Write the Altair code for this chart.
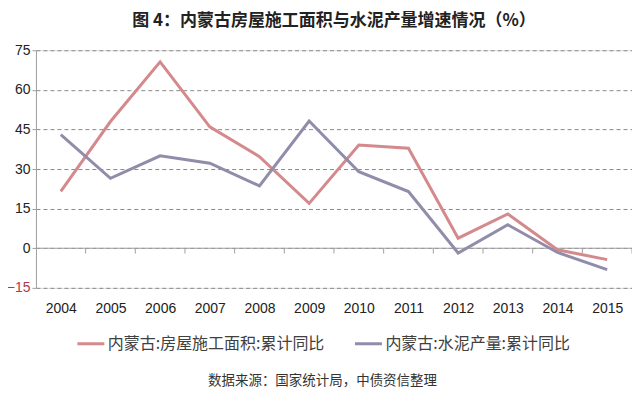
import altair as alt
import pandas as pd

years = [2004, 2005, 2006, 2007, 2008, 2009, 2010, 2011, 2012, 2013, 2014, 2015]
housing = [21.5, 48.0, 70.6, 46.0, 34.7, 17.0, 39.1, 37.9, 3.8, 13.0, -0.6, -4.3]
cement = [43.0, 26.5, 35.0, 32.2, 23.6, 48.2, 29.0, 21.5, -1.8, 8.9, -1.6, -8.1]
series_names = ["内蒙古:房屋施工面积:累计同比", "内蒙古:水泥产量:累计同比"]
series_colors = ["#d48a8c", "#908ca9"]
y_ticks = [-15, 0, 15, 30, 45, 60, 75]
title_text = "图 4：内蒙古房屋施工面积与水泥产量增速情况（%）"
source_text = "数据来源：国家统计局，中债资信整理"

W, H = 597, 238
x_domain = [years[0] - 0.5, years[-1] + 0.5]
y_domain = [y_ticks[0], y_ticks[-1]]

rows = []
for name, vals in zip(series_names, [housing, cement]):
    for yr, v in zip(years, vals):
        rows.append({"year": yr, "value": v, "series": name})
df = pd.DataFrame(rows)

xscale = alt.Scale(domain=x_domain, nice=False, zero=False)
yscale = alt.Scale(domain=y_domain, nice=False, zero=False)

x_axis = alt.Axis(values=years, format="d", ticks=False, domain=False, grid=False,
                  labelFontSize=14, labelColor="#222", labelPadding=14,
                  labelFont="Liberation Sans", labelOverlap=False)
y_axis = alt.Axis(values=y_ticks, grid=True, gridDash=[4, 3], gridColor="#8a8a8a",
                  domainColor="#a0a0a0", tickColor="#a0a0a0", tickSize=4,
                  labelFontSize=14, labelPadding=2, labelFont="Liberation Sans",
                  labelOverlap=False,
                  labelColor={"condition": {"test": "datum.value < 0", "value": "#b03a48"},
                              "value": "#222"})

lines = alt.Chart(df).mark_line(strokeWidth=3).encode(
    x=alt.X("year:Q", scale=xscale, title=None, axis=x_axis),
    y=alt.Y("value:Q", scale=yscale, title=None, axis=y_axis),
    color=alt.Color("series:N", title=None,
                    scale=alt.Scale(domain=series_names, range=series_colors),
                    legend=alt.Legend(orient="none", legendX=40, legendY=279,
                                      direction="horizontal", symbolType="stroke",
                                      symbolSize=729, symbolStrokeWidth=3,
                                      labelFontSize=16, labelFont="Noto Sans CJK SC",
                                      labelColor="#404040", labelOffset=2,
                                      columnPadding=24, labelLimit=400)),
)

zero_df = pd.DataFrame({"x0": [x_domain[0]], "x1": [x_domain[1]], "y": [0]})
zero_rule = alt.Chart(zero_df).mark_rule(color="#a0a0a0", strokeWidth=1).encode(
    x=alt.X("x0:Q", scale=xscale, title=None, axis=x_axis), x2="x1:Q",
    y=alt.Y("y:Q", scale=yscale, title=None, axis=y_axis)
)

tick_df = pd.DataFrame({"b": [yr + 0.5 for yr in years], "y0": [0] * len(years),
                        "y1": [-2] * len(years)})
ticks = alt.Chart(tick_df).mark_rule(color="#a0a0a0", strokeWidth=1).encode(
    x=alt.X("b:Q", scale=xscale, title=None, axis=x_axis),
    y=alt.Y("y0:Q", scale=yscale, title=None, axis=y_axis), y2="y1:Q"
)

src = alt.Chart(pd.DataFrame({"t": [source_text]})).mark_text(
    font="Noto Sans CJK SC", fontSize=13.5, color="#333", align="center", baseline="middle"
).encode(text="t:N", x=alt.value(287), y=alt.value(331))

chart = alt.layer(zero_rule, ticks, lines, src).properties(
    width=W, height=H,
    autosize=alt.AutoSizeParams(type="none"),
    padding={"left": 28, "top": 42, "right": 0, "bottom": 100},
    title=alt.TitleParams(title_text, font="Noto Sans CJK SC", fontSize=17, fontWeight="bold",
                          color="#222", anchor="middle", offset=13),
).configure_view(stroke=None).configure(background="white")

chart.save("out.html", embed_options={"renderer": "svg", "actions": False})
